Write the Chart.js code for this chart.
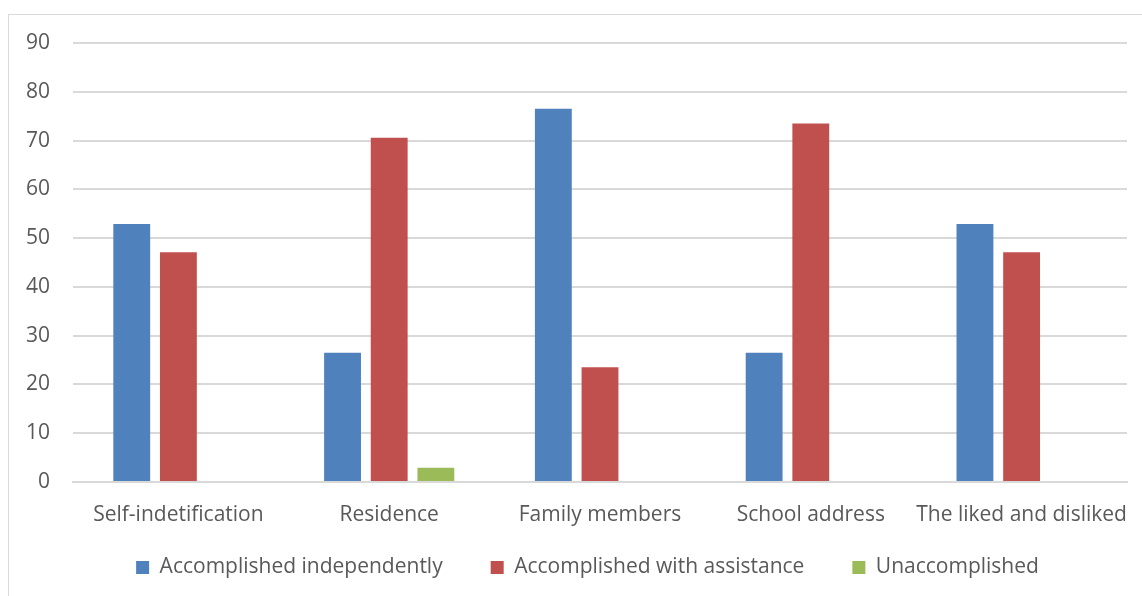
<!DOCTYPE html>
<html lang="en">
  <head>
    <meta charset="UTF-8" />
    <title>Task accomplishment</title>
    <script src="https://cdn.jsdelivr.net/npm/chart.js"></script>
    <style>
      body { margin: 0; background: #fff; overflow: hidden; }
      #frame {
        position: absolute; left: 8px; top: 14px;
        width: 1140px; height: 590px;
        border: 1px solid #d9d9d9;
      }
      #wrap { position: absolute; left: 0; top: 0; width: 1142px; height: 596px; }
    </style>
  </head>
  <body>
    <div id="frame"></div>
    <div id="wrap"><canvas id="taskChart" width="1142" height="596"></canvas></div>

    <script>
      const categories = ["Self-indetification", "Residence", "Family members", "School address", "The liked and disliked"];
      const independently = [52.9, 26.5, 76.5, 26.5, 52.9];
      const withAssistance = [47.1, 70.6, 23.5, 73.5, 47.1];
      const unaccomplished = [0, 2.9, 0, 0, 0];
      const yTicks = [0, 10, 20, 30, 40, 50, 60, 70, 80, 90];

      const textColor = "#595959";
      const gridColor = "#d9d9d9";
      Chart.defaults.font.family = "'Open Sans', sans-serif";
      Chart.defaults.font.size = 21;
      Chart.defaults.color = textColor;

      // legend padding spaces the items wide apart; trim the vertical room it takes
      const LEGEND_TRIM = 39;
      const LEGEND_LIFT = 39;
      const LEGEND_SHIFT = 24;
      const compactLegend = {
        id: "compactLegend",
        beforeInit(chart) {
          const legend = chart.legend;
          const fit = legend.fit;
          legend.fit = function () {
            fit.call(this);
            this.height -= LEGEND_TRIM;
          };
          const draw = legend.draw;
          legend.draw = function () {
            this.top -= LEGEND_LIFT;
            this.left += LEGEND_SHIFT;
            this.right += LEGEND_SHIFT;
            draw.call(this);
            this.top += LEGEND_LIFT;
            this.left -= LEGEND_SHIFT;
            this.right -= LEGEND_SHIFT;
          };
        },
      };

      new Chart(document.getElementById("taskChart"), {
        type: "bar",
        data: {
          labels: categories,
          datasets: [
            { label: "Accomplished independently", data: independently, backgroundColor: "#4f81bd" },
            { label: "Accomplished with assistance", data: withAssistance, backgroundColor: "#c0504d" },
            { label: "Unaccomplished", data: unaccomplished, backgroundColor: "#9bbb59" },
          ],
        },
        options: {
          responsive: false,
          animation: false,
          categoryPercentage: 0.664,
          barPercentage: 0.79,
          layout: { padding: { top: 43, right: 15, bottom: 8, left: 0 } },
          scales: {
            x: {
              grid: { display: false, drawTicks: false },
              border: { color: gridColor, width: 2 },
              ticks: { padding: 12, maxRotation: 0, autoSkip: false, font: { lineHeight: 2 } },
            },
            y: {
              min: 0,
              max: 90,
              afterBuildTicks: (scale) => { scale.ticks = yTicks.map((v) => ({ value: v })); },
              afterFit: (scale) => { scale.width = 73; },
              grid: { color: gridColor, lineWidth: 2, drawTicks: false },
              border: { display: false },
              ticks: { padding: 23 },
            },
          },
          plugins: {
            legend: {
              position: "bottom",
              labels: { boxWidth: 13, boxHeight: 13, padding: 48, color: textColor },
            },
            tooltip: { enabled: false },
          },
        },
        plugins: [compactLegend],
      });
    </script>
  </body>
</html>
